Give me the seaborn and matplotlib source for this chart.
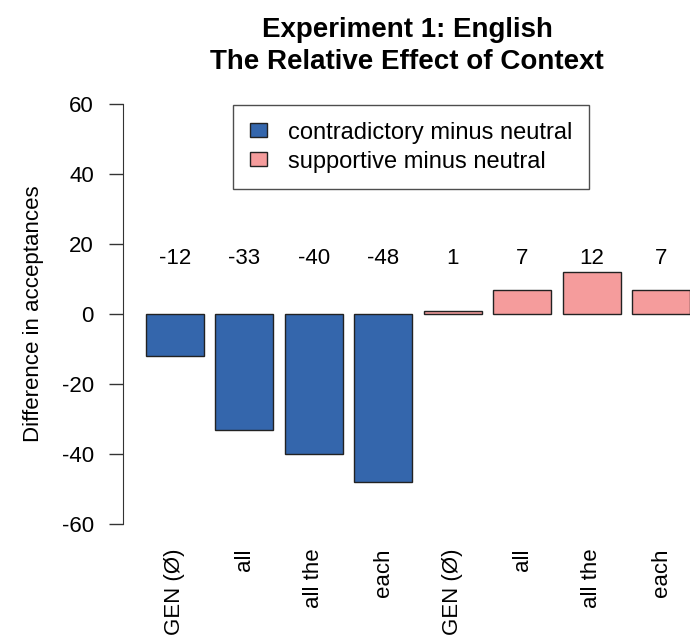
import matplotlib
matplotlib.use("Agg")
import matplotlib.pyplot as plt
import numpy as np
import pandas as pd
import seaborn as sns
from matplotlib.patches import Patch

# data
labels = ["GEN (Ø)", "all", "all the", "each", "GEN (Ø)", "all", "all the", "each"]
groups = ["contradictory minus neutral"] * 4 + ["supportive minus neutral"] * 4
values = [-12, -33, -40, -48, 1, 7, 12, 7]
palette = {"contradictory minus neutral": "#3466AC", "supportive minus neutral": "#F59C9C"}

df = pd.DataFrame({"slot": [f"b{i}" for i in range(len(values))],
                   "label": labels, "group": groups, "value": values})

sns.set_style("ticks")
plt.rcParams["font.family"] = ["Liberation Sans", "DejaVu Sans"]
plt.rcParams["text.color"] = "black"
plt.rcParams["xtick.color"] = "black"
plt.rcParams["ytick.color"] = "black"
plt.rcParams["axes.labelcolor"] = "black"

FS = 16

fig = plt.figure(figsize=(6.9, 6.44), dpi=100)
ax = fig.add_axes([123 / 690, 1 - 541.5 / 644, 1 - 123 / 690, (541.5 - 86.5) / 644])

sns.barplot(data=df, x="slot", y="value", hue="group", palette=palette,
            dodge=False, width=1 / 1.2, saturation=1, edgecolor="#222222",
            linewidth=1, legend=False, ax=ax)

ax.set_xlim(-0.7475, 7.4167)
ax.set_ylim(-65, 65)
ax.set_yticks([-60, -40, -20, 0, 20, 40, 60])
ax.set_yticklabels(["-60", "-40", "-20", "0", "20", "40", "60"], fontsize=FS)
ax.set_xticks(range(len(labels)))
ax.set_xticklabels(labels, rotation=90, fontsize=FS, va="top")
ax.tick_params(axis="x", length=0, pad=5)
ax.tick_params(axis="y", length=10, width=1, color="#333333", pad=11)

for s in ["top", "right", "bottom"]:
    ax.spines[s].set_visible(False)
ax.spines["left"].set_bounds(-60, 60)
ax.spines["left"].set_color("#333333")
ax.set_xlabel("")
ax.set_ylabel("Difference in acceptances", fontsize=FS, labelpad=13)

for i, v in enumerate(values):
    ax.text(i, 16, str(v), ha="center", va="center", fontsize=FS)

handles = [Patch(facecolor=palette[g], edgecolor="#222222") for g in palette]
leg = ax.legend(handles, list(palette), loc="upper left",
                bbox_to_anchor=((233 - 123) / 567, 1 - (105 - 86.5) / 455),
                fontsize=17, fancybox=False, edgecolor="#222222",
                handlelength=0.75, handleheight=0.55, borderpad=0.7,
                labelspacing=0.3, handletextpad=0.9, borderaxespad=0)
leg.get_frame().set_linewidth(1)

fig.text(407 / 690, 1 - 30 / 644, "Experiment 1: English", ha="center", va="center",
         fontsize=20, fontweight="bold")
fig.text(407 / 690, 1 - 62 / 644, "The Relative Effect of Context", ha="center", va="center",
         fontsize=20, fontweight="bold")

fig.savefig("out.png", dpi=100)
